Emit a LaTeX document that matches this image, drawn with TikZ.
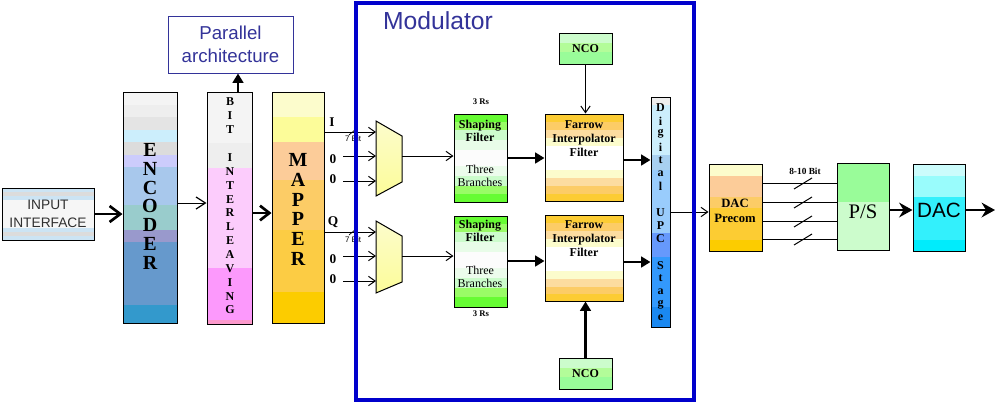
\documentclass[tikz,border=0pt]{standalone}
\usepackage{fontspec}
\setmainfont{Liberation Serif}
\newfontfamily\sansf{Liberation Sans}
\usetikzlibrary{arrows.meta,fit,calc}
\definecolor{navy}{HTML}{333399}
\definecolor{modblue}{HTML}{0000CC}
\definecolor{muxtop}{HTML}{FCFCCC}
\definecolor{muxbot}{HTML}{FCFC99}
\definecolor{txtgray}{HTML}{303030}
\newcommand\mystripes[3]{%
  \foreach \ya/\yb/\cc in {#3}{%
    \edef\tmpdef{\noexpand\definecolor{tmpc}{HTML}{\cc}}\tmpdef
    \fill[tmpc] (#1,\ya) rectangle (#2,\yb);}}
\begin{document}
\begin{tikzpicture}[x=0.75pt,y=-0.75pt,
  thinl/.style={line width=0.75pt},
  tarr/.style={line width=0.75pt,-{Straight Barb[length=5pt,width=7pt,line width=0.75pt]}},
  karr/.style={line width=2.2pt,-{Triangle[length=7pt,width=8pt]}},
  sarr/.style={line width=2.2pt,-{Stealth[length=10pt,width=11pt]}},
  barb/.style={line width=2pt,-{Straight Barb[length=8pt,width=12pt,line width=2pt]}},
  box/.style={draw,line width=0.75pt,inner sep=0pt},
  biglet/.style={font=\bfseries\fontsize{15}{15}\selectfont},
  smlet/.style={font=\bfseries\fontsize{9}{9}\selectfont},
  lab/.style={font=\bfseries\fontsize{9}{10}\selectfont,align=center},
  muxsh/.style={draw=black,line width=0.75pt,top color=muxtop,bottom color=muxbot},
]
\useasboundingbox (0,0) rectangle (996,404);
\fill[white] (0,0) rectangle (996,404);

% ---------- fills ----------
\mystripes{2}{94}{188/192/CCE4F4,192/196/DCDCDC,196/200/CCE4F4,200/228/F6F6F6,228/232/CCE4F4,232/236/DCDCDC,236/240/CCE4F4}
\mystripes{123}{177}{92/105/F4F4F4,105/117/EEEEEE,117/130/E4E4E4,130/142/CCEEFC,142/155/DCDCDC,155/167/CCCCFC,167/205/A8C8EC,205/230/99CCCC,230/242/9999CC,242/305/6699CC,305/323/3399CC}
\mystripes{207}{252}{92/143/F4F4F4,143/168/EEEEEE,168/268/FCCCFC,268/320/FC99FC,320/324/FC99CC}
\mystripes{272}{324}{92/117/FCFCCC,117/142/FCFC99,142/180/FCCC99,180/230/FCCC66,230/292/FCCC44,292/323/FCCC00}
\mystripes{454}{507}{114/122/66FC33,122/130/99FC66,130/140/CCFCCC,140/150/E8FCE8,150/166/FCFCFC,166/176/ECFCEC,176/186/CCFCCC,186/194/99FC66,194/202/66FC33}
\mystripes{454}{507}{216/224/66FC33,224/232/99FC66,232/242/CCFCCC,242/252/E8FCE8,252/268/FCFCFC,268/278/ECFCEC,278/288/CCFCCC,288/297/99FC66,297/307/66FC33}
\mystripes{545}{623}{114/122/FCCC33,122/130/FCCC66,130/138/FCDCA0,138/146/FCFCCC,146/170/FFFFFF,170/178/FCFCCC,178/186/FCDCA0,186/194/FCCC66,194/201/FCCC33}
\mystripes{545}{623}{215/223/FCCC33,223/231/FCCC66,231/239/FCDCA0,239/247/FCFCCC,247/271/FFFFFF,271/279/FCFCCC,279/287/FCDCA0,287/294/FCCC66,294/301/FCCC33}
\mystripes{559}{612}{33/43/CCFCCC,43/52/B3FC99,52/64/99FC99}
\mystripes{559}{612}{358/368/CCFCCC,368/377/B3FC99,377/389/99FC99}
\mystripes{651}{670}{97/105/EEEEEE,105/155/CCEEFC,155/170/A8D0F0,170/233/99CCFC,233/257/6699FC,257/307/3399FC,307/327/1A88F0}
\mystripes{709}{762}{164/176/FCFCCC,176/197/FCCC99,197/208/FCCC66,208/240/FCCC33,240/251/FCCC00}
\mystripes{837}{889}{163/202/99FC99,202/250/CCFCCC}
\mystripes{913}{965}{164/176/CCFCFC,176/197/99FCFC,197/240/33F0FC,240/251/00ECFC}

% ---------- boxes ----------
\node[box,fit={(2,188)(94,240)}] (inp) {};
\node[box,fit={(123,92)(177,323)}] (enc) {};
\node[box,fit={(207,92)(252,324)}] (bit) {};
\node[box,fit={(272,92)(324,323)}] (map) {};
\node[box,draw=navy,fit={(168,16)(293,73)}] (par) {};
\node[box,fit={(454,114)(507,202)}] (sf1) {};
\node[box,fit={(454,216)(507,307)}] (sf2) {};
\node[box,fit={(545,114)(623,201)}] (fa1) {};
\node[box,fit={(545,215)(623,301)}] (fa2) {};
\node[box,fit={(559,33)(612,64)}] (nco1) {};
\node[box,fit={(559,358)(612,389)}] (nco2) {};
\node[box,fit={(651,97)(670,327)}] (upc) {};
\node[box,fit={(709,164)(762,251)}] (dacp) {};
\node[box,fit={(837,163)(889,250)}] (ps) {};
\node[box,fit={(913,164)(965,251)}] (dac) {};

% muxes
\shade[muxsh] (376,121) -- (402,136) -- (402,182) -- (376,196) -- cycle;
\shade[muxsh] (376,221) -- (402,236) -- (402,282) -- (376,293) -- cycle;
\coordinate (mIa) at (376,132);
\coordinate (mIb) at (376,156);
\coordinate (mIc) at (376,181);
\coordinate (mIb0) at (343,156);
\coordinate (mIc0) at (343,181);
\coordinate (mIo) at (402,156);
\coordinate (mQa) at (376,232);
\coordinate (mQb) at (376,256);
\coordinate (mQc) at (376,281);
\coordinate (mQb0) at (343,256);
\coordinate (mQc0) at (343,281);
\coordinate (mQo) at (402,256);
\coordinate (out) at (995,210);

% ---------- texts ----------
\node[font=\sansf\fontsize{10.3}{13}\selectfont,align=center,text=txtgray] at (inp) {INPUT\\INTERFACE};
\node[font=\sansf\fontsize{14}{17}\selectfont,align=center,text=navy] at (par) {Parallel\\architecture};
\node[font=\sansf\fontsize{18.5}{20}\selectfont,text=navy] at (438,21) {Modulator};
\foreach \l [count=\i] in {E,N,C,O,D,E,R}
  \node[biglet] at (150,{150+(\i-1)*18.8}) {\l};
\foreach \l [count=\i] in {M,A,P,P,E,R}
  \node[biglet] at (298,{160+(\i-1)*19.8}) {\l};
\foreach \l [count=\i] in {B,I,T,{},I,N,T,E,R,L,E,A,V,I,N,G}
  \node[smlet] at (230,{102+(\i-1)*13.87}) {\l};
\foreach \l [count=\i] in {D,i,g,i,t,a,l,{},U,P,C,{},S,t,a,g,e}
  \node[smlet] at (660.5,{108+(\i-1)*13.1}) {\l};

\node[font=\bfseries\fontsize{10}{10}\selectfont] at (332,122) {I};
\node[font=\bfseries\fontsize{10}{10}\selectfont] at (333,159) {0};
\node[font=\bfseries\fontsize{10}{10}\selectfont] at (333,179) {0};
\node[font=\bfseries\fontsize{10}{10}\selectfont] at (333,222) {Q};
\node[font=\bfseries\fontsize{10}{10}\selectfont] at (333,259) {0};
\node[font=\bfseries\fontsize{10}{10}\selectfont] at (333,279) {0};
\node[font=\sansf\fontsize{6}{6}\selectfont] at (353,139) {7 Bit};
\node[font=\sansf\fontsize{6}{6}\selectfont] at (353,240) {7 Bit};
\draw[line width=0.5pt] (349,135) -- (356,129);
\draw[line width=0.5pt] (349,235) -- (356,229);

\node[font=\bfseries\fontsize{6.5}{7}\selectfont] at (481,102) {3 Rs};
\node[font=\bfseries\fontsize{6.5}{7}\selectfont] at (481,314) {3 Rs};
\node[lab] at (480,131) {Shaping\\Filter};
\node[font=\fontsize{9}{10}\selectfont,align=center] at (480,176) {Three\\Branches};
\node[lab] at (480,231) {Shaping\\Filter};
\node[font=\fontsize{9}{10}\selectfont,align=center] at (480,277) {Three\\Branches};
\node[lab,font=\bfseries\fontsize{9}{10.5}\selectfont] at (584,139) {Farrow\\Interpolator\\Filter};
\node[lab,font=\bfseries\fontsize{9}{10.5}\selectfont] at (584,239) {Farrow\\Interpolator\\Filter};
\node[font=\bfseries\fontsize{9}{9}\selectfont] at (nco1) {NCO};
\node[font=\bfseries\fontsize{9}{9}\selectfont] at (nco2) {NCO};
\node[font=\bfseries\fontsize{9.5}{11}\selectfont,align=center] at (735,211) {DAC\\Precom};
\node[font=\bfseries\fontsize{7}{7}\selectfont] at (805,171) {8-10 Bit};
\node[font=\fontsize{15.5}{16}\selectfont] at (863,212) {P/S};
\node[font=\sansf\fontsize{15.5}{16}\selectfont] at (939,210) {DAC};

% ---------- connectors ----------
\draw[barb] (inp.east) -- (inp.east -| enc.west);
\draw[tarr,-{Straight Barb[length=7pt,width=9pt,line width=0.9pt]}] (enc.east |- 0,203) -- (bit.west |- 0,203);
\draw[karr] (bit.north -| 238,0) -- (par.south -| 238,0);
\draw[line width=2pt,-{Straight Barb[length=7pt,width=11pt,line width=2pt]}] (bit.east |- 0,213) -- (map.west |- 0,213);
\draw[tarr] (map.east |- mIa) -- (mIa);
\draw[tarr] (mIb0) -- (mIb);
\draw[tarr] (mIc0) -- (mIc);
\draw[tarr] (map.east |- mQa) -- (mQa);
\draw[tarr] (mQb0) -- (mQb);
\draw[tarr] (mQc0) -- (mQc);
\draw[tarr] (mIo) -- (sf1.west |- mIo);
\draw[tarr] (mQo) -- (sf2.west |- mQo);
\draw[karr] (sf1.east |- 0,158) -- (fa1.west |- 0,158);
\draw[karr] (sf2.east |- 0,261) -- (fa2.west |- 0,261);
\draw[tarr] (nco1.south) -- (nco1.south |- fa1.north);
\draw[karr] (nco2.north) -- (nco2.north |- fa2.south);
\draw[karr] (fa1.east |- 0,160) -- (upc.west |- 0,160);
\draw[karr] (fa2.east |- 0,262) -- (upc.west |- 0,262);
\draw[tarr] (upc.east |- 0,212) -- (dacp.west |- 0,212);
\foreach \y in {183,202,221,239}{
  \draw[thinl] (dacp.east |- 0,\y) -- (ps.west |- 0,\y);
  \draw[thinl] (794,\y+6) -- (812,\y-5);
}
\draw[sarr] (ps.east |- 0,210) -- (dac.west |- 0,210);
\draw[sarr] (dac.east |- out) -- (out);

% modulator frame
\node[draw=modblue,line width=2.4pt,inner sep=0pt,fit={(356,3)(694,400)}] (mod) {};
\end{tikzpicture}
\end{document}
